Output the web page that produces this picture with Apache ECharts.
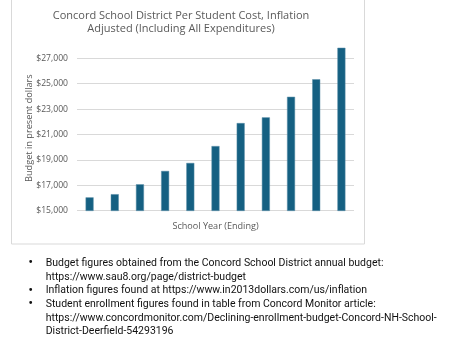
<!DOCTYPE html>
<html>
<head>
<meta charset="utf-8">
<script src="https://cdn.jsdelivr.net/npm/echarts@6/dist/echarts.min.js"></script>
<style>html,body{margin:0;padding:0;background:#fff;}#c{width:454px;height:341px;}</style>
</head>
<body>
<div id="c"></div>
<script>
var categories = ['2014','2015','2016','2017','2018','2019','2020','2021','2022','2023','2024'];
var costValues = [16050, 16300, 17080, 18130, 18760, 20090, 21900, 22350, 23970, 25350, 27830];
var yTicks = [15000, 17000, 19000, 21000, 23000, 25000, 27000];
var yMax = 28000;
var titleLines = ['Concord School District Per Student Cost, Inflation', 'Adjusted (Including All Expenditures)'];
var notes = [
  ['Budget figures obtained from the Concord School District annual budget:', 'https://www.sau8.org/page/district-budget'],
  ['Inflation figures found at https://www.in2013dollars.com/us/inflation'],
  ['Student enrollment figures found in table from Concord Monitor article:', 'https://www.concordmonitor.com/Declining-enrollment-budget-Concord-NH-School-', 'District-Deerfield-54293196']
];

var FONT = 'Open Sans';
var NOTE_FONT = 'Roboto';
var chart = echarts.init(document.getElementById('c'), null, {renderer: 'canvas'});

var graphics = [{
  type: 'rect', shape: {x: 11.5, y: -5, width: 353, height: 249}, silent: true,
  style: {fill: 'none', stroke: '#d9d9d9', lineWidth: 1}
}, {
  type: 'text', x: 181, y: 9, silent: true,
  style: {text: titleLines.join('\n'), font: '11px ' + FONT, fill: '#595959', align: 'center', verticalAlign: 'top', lineHeight: 13.5}
}];
var lineY = 263.3, step = 13.7;
notes.forEach(function (item) {
  graphics.push({type: 'text', x: 28.5, y: lineY, style: {text: '•', font: 'bold 12px ' + NOTE_FONT, fill: '#111', verticalAlign: 'middle'}});
  item.forEach(function (ln) {
    graphics.push({type: 'text', x: 45.7, y: lineY, style: {text: ln, font: '10.5px ' + NOTE_FONT, fill: '#111', verticalAlign: 'middle'}});
    lineY += step;
  });
});

var splitColors = yTicks.map(function () { return '#d9d9d9'; }).concat(['rgba(0,0,0,0)']);

chart.setOption({
  animation: false,
  backgroundColor: '#fff',
  grid: {left: 77, right: 100, top: 45.6, bottom: 130.3, containLabel: false},
  xAxis: {
    type: 'category', data: categories,
    name: 'School Year (Ending)', nameLocation: 'middle', nameGap: 11,
    nameTextStyle: {fontFamily: FONT, fontSize: 9.1, color: '#595959', verticalAlign: 'top'},
    axisLine: {show: false}, axisTick: {show: false}, axisLabel: {show: false}
  },
  yAxis: {
    type: 'value', min: yTicks[0], max: yMax, interval: yTicks[1] - yTicks[0],
    name: 'Budget in present dollars', nameLocation: 'middle', nameGap: 43, nameRotate: 90,
    nameMoveOverlap: false,
    nameTextStyle: {fontFamily: FONT, fontSize: 9.2, color: '#595959'},
    axisLine: {show: false}, axisTick: {show: false},
    axisLabel: {fontFamily: FONT, fontSize: 8.6, color: '#595959', margin: 9,
      formatter: function (v) { return yTicks.indexOf(v) >= 0 ? '$' + v.toLocaleString('en-US') : ''; }},
    splitLine: {lineStyle: {color: splitColors, width: 1}}
  },
  series: [{
    type: 'bar', data: costValues, barWidth: 8,
    itemStyle: {color: '#156082', borderColor: '#5b8fa8', borderWidth: 0.5}
  }],
  graphic: graphics
});
</script>
</body>
</html>
